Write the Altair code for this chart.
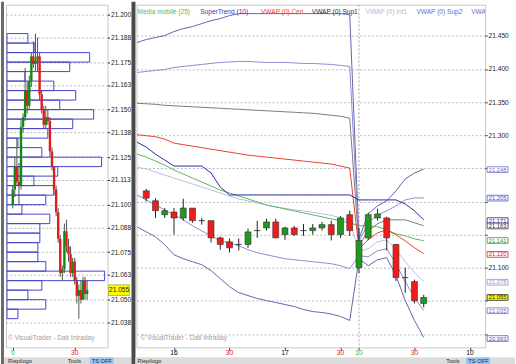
import altair as alt
import pandas as pd

FONT = "Liberation Sans"

# ---------------- right panel: 5-minute bars ----------------
BAR_INDEX = list(range(31))
BAR_OPEN = [21.216, 21.201, 21.180, 21.184, 21.175, 21.190, 21.171, 21.171, 21.145, 21.139,
            21.135, 21.135, 21.156, 21.160, 21.169, 21.150, 21.160, 21.156, 21.156, 21.160,
            21.165, 21.150, 21.180, 21.100, 21.145, 21.175, 21.175, 21.135, 21.085, 21.079, 21.046]
BAR_HIGH = [21.219, 21.205, 21.190, 21.190, 21.204, 21.190, 21.175, 21.171, 21.147, 21.144,
            21.144, 21.159, 21.171, 21.174, 21.174, 21.162, 21.163, 21.166, 21.166, 21.169,
            21.171, 21.178, 21.186, 21.160, 21.183, 21.189, 21.177, 21.136, 21.100, 21.082, 21.059]
BAR_LOW = [21.200, 21.175, 21.175, 21.150, 21.171, 21.168, 21.165, 21.138, 21.127, 21.123,
           21.126, 21.130, 21.145, 21.156, 21.145, 21.142, 21.148, 21.148, 21.150, 21.156,
           21.141, 21.145, 21.148, 21.092, 21.142, 21.171, 21.126, 21.080, 21.062, 21.046, 21.040]
BAR_CLOSE = [21.205, 21.186, 21.186, 21.175, 21.190, 21.171, 21.171, 21.145, 21.135, 21.130,
             21.135, 21.154, 21.156, 21.169, 21.145, 21.160, 21.150, 21.156, 21.160, 21.165,
             21.150, 21.175, 21.156, 21.141, 21.180, 21.181, 21.145, 21.085, 21.085, 21.050, 21.055]

# indicator lines, one value per bar from index -1 to 30
LINE_INDEX = list(range(-1, 31))
VWAP_SUP3 = [21.4399, 21.4444, 21.4474, 21.4504, 21.4564, 21.4609, 21.4639, 21.4684, 21.4729, 21.4760,
             21.4805, 21.4835, 21.4835, 21.4835, 21.4835, 21.4835, 21.4835, 21.4835, 21.4835, 21.4835,
             21.4835, 21.4835, 21.4835, 21.4820, 21.1436, 21.1812, 21.1932, 21.2008, 21.2158, 21.2338,
             21.2429, 21.2489]
VWAP_SUP2 = [21.3947, 21.3962, 21.3977, 21.3992, 21.4023, 21.4038, 21.4053, 21.4068, 21.4083, 21.4098,
             21.4105, 21.4113, 21.4113, 21.4105, 21.4098, 21.4098, 21.4098, 21.4090, 21.4083, 21.4083,
             21.4075, 21.4068, 21.4053, 21.4038, 21.1391, 21.1677, 21.1797, 21.1857, 21.1932, 21.2023,
             21.2053, 21.2053]
VWAP_SUP1 = [21.3481, 21.3474, 21.3466, 21.3451, 21.3444, 21.3436, 21.3429, 21.3421, 21.3414, 21.3406,
             21.3398, 21.3391, 21.3383, 21.3376, 21.3368, 21.3361, 21.3353, 21.3346, 21.3338, 21.3331,
             21.3316, 21.3301, 21.3286, 21.3256, 21.1331, 21.1556, 21.1662, 21.1722, 21.1722, 21.1722,
             21.1677, 21.1632]
VWAP_CEN = [21.3008, 21.2992, 21.2977, 21.2940, 21.2880, 21.2857, 21.2835, 21.2812, 21.2789, 21.2767,
            21.2744, 21.2722, 21.2699, 21.2684, 21.2669, 21.2654, 21.2639, 21.2624, 21.2609, 21.2594,
            21.2579, 21.2564, 21.2534, 21.2504, 21.1286, 21.1421, 21.1526, 21.1571, 21.1496, 21.1406,
            21.1301, 21.1211]
VWAP_INF1 = [21.2519, 21.2489, 21.2444, 21.2398, 21.2353, 21.2308, 21.2263, 21.2218, 21.2173, 21.2128,
             21.2083, 21.2038, 21.2008, 21.1977, 21.1947, 21.1917, 21.1895, 21.1872, 21.1857, 21.1835,
             21.1812, 21.1789, 21.1752, 21.1707, 21.1241, 21.1286, 21.1391, 21.1421, 21.1271, 21.1090,
             21.0925, 21.0789]
VWAP_INF2 = [21.2098, 21.2023, 21.1947, 21.1872, 21.1797, 21.1722, 21.1632, 21.1556, 21.1481, 21.1406,
             21.1376, 21.1331, 21.1271, 21.1226, 21.1195, 21.1165, 21.1135, 21.1120, 21.1105, 21.1090,
             21.1075, 21.1060, 21.1030, 21.0985, 21.1180, 21.1165, 21.1256, 21.1286, 21.1060, 21.0789,
             21.0549, 21.0353]
VWAP_INF3 = [21.1617, 21.1541, 21.1466, 21.1346, 21.1195, 21.1135, 21.1090, 21.1045, 21.0955, 21.0835,
             21.0714, 21.0624, 21.0579, 21.0534, 21.0504, 21.0474, 21.0444, 21.0414, 21.0368, 21.0338,
             21.0323, 21.0301, 21.0263, 21.0203, 21.1135, 21.1030, 21.1120, 21.1150, 21.0880, 21.0504,
             21.0203, 20.9947]
MEDIA_MOBILE = [21.2714, 21.2669, 21.2609, 21.2549, 21.2474, 21.2414, 21.2353, 21.2293, 21.2233, 21.2173,
                21.2128, 21.2083, 21.2038, 21.1992, 21.1947, 21.1917, 21.1887, 21.1857, 21.1827, 21.1797,
                21.1767, 21.1737, 21.1707, 21.1677, 21.1632, 21.1632, 21.1617, 21.1571, 21.1511, 21.1481,
                21.1436, 21.1406]
SUPERTREND = [21.2895, 21.2820, 21.2714, 21.2624, 21.2534, 21.2534, 21.2534, 21.2534, 21.2429, 21.2218,
              21.2098, 21.2098, 21.2098, 21.2098, 21.2098, 21.2098, 21.2098, 21.2098, 21.2098, 21.2098,
              21.2098, 21.2098, 21.2098, 21.2098, 21.2023, 21.2023, 21.2023, 21.2023, 21.2023, 21.1962,
              21.1857, 21.1722]

SERIES_NAMES = ["Sup3", "Inf3", "Sup2", "Inf2", "Inf1", "Sup1", "Media", "Cen", "SuperTrend"]
SERIES_VALUES = [VWAP_SUP3, VWAP_INF3, VWAP_SUP2, VWAP_INF2, VWAP_INF1, VWAP_SUP1,
                 MEDIA_MOBILE, VWAP_CEN, SUPERTREND]
SERIES_COLORS = ["#6464b0", "#6464b0", "#8c8cd4", "#8c8cd4", "#bcbce8", "#7c7c7c",
                 "#5cb85c", "#e8402a", "#2a2aa8"]
SERIES_WIDTHS = [1, 1, 1, 1, 1, 2, 1, 2, 2]

# axis value boxes (right panel)
BOX_PRICE = [21.248, 21.205, 21.171, 21.163, 21.141, 21.120, 21.078, 21.055, 21.035, 20.993]
BOX_TEXT = [f"{p:.3f}" for p in BOX_PRICE]
BOX_INK = ["#7070c0", "#5050c8", "#1c1ca0", "#303030", "#2a9a2a", "#e02020", "#9090d0",
           "#202020", "#6a6ad0", "#5a5ab0"]
BOX_FILL = ["#ffffff"] * 7 + ["#ffff00"] + ["#ffffff"] * 2

LEGEND_TEXT = ["Media mobile (25)", "SuperTrend (10)", "VWAP (0) Cen", "VWAP (0) Sup1",
               "VWAP (0) Inf1", "VWAP (0) Sup2", "VWAP (0) Inf2"]
LEGEND_COLOR = ["#5cb85c", "#3a3ab0", "#e84030", "#303030", "#b4b4e0", "#6a6ad0", "#6a6ad0"]
LEGEND_X = [1, 64, 125, 176, 230, 281, 336]

R_TICK_POS = [3, 9, 15, 21, 23, 29, 35]
R_TICK_TEXT = ["16", "30", "17", "30", "10", "30", "10"]
R_TICK_COLOR = ["#000000", "#e02020", "#000000", "#e02020", "#22bb22", "#e02020", "#000000"]
R_Y_TICKS = [21.0, 21.05, 21.1, 21.15, 21.2, 21.25, 21.3, 21.35, 21.4, 21.45]
R_Y_COVERED = [21.0, 21.05, 21.15, 21.2, 21.25]   # axis labels hidden behind the value boxes
DAY_START = [23]

# ---------------- left panel: 1-minute bars + volume profile ----------------
L_INDEX = list(range(37))
L_OPEN = [21.100, 21.108, 21.120, 21.112, 21.110, 21.141, 21.146, 21.160, 21.152, 21.165,
          21.178, 21.174, 21.176, 21.178, 21.158, 21.150, 21.142, 21.146, 21.144, 21.128,
          21.120, 21.108, 21.096, 21.082, 21.064, 21.066, 21.086, 21.078, 21.074, 21.064,
          21.070, 21.060, 21.052, 21.055, 21.050, 21.060, 21.053]
L_HIGH = [21.110, 21.125, 21.135, 21.122, 21.145, 21.148, 21.172, 21.165, 21.168, 21.180,
          21.186, 21.190, 21.188, 21.180, 21.160, 21.152, 21.152, 21.150, 21.146, 21.130,
          21.120, 21.110, 21.098, 21.084, 21.068, 21.090, 21.092, 21.082, 21.078, 21.072,
          21.072, 21.062, 21.058, 21.060, 21.062, 21.062, 21.060]
L_LOW = [21.098, 21.104, 21.110, 21.100, 21.108, 21.138, 21.144, 21.148, 21.150, 21.162,
         21.172, 21.170, 21.170, 21.155, 21.148, 21.140, 21.140, 21.142, 21.125, 21.118,
         21.105, 21.094, 21.080, 21.062, 21.060, 21.064, 21.075, 21.070, 21.062, 21.062,
         21.058, 21.048, 21.040, 21.048, 21.050, 21.050, 21.050]
L_CLOSE = [21.108, 21.120, 21.112, 21.110, 21.141, 21.146, 21.160, 21.152, 21.165, 21.178,
           21.174, 21.176, 21.178, 21.158, 21.150, 21.142, 21.146, 21.144, 21.128, 21.120,
           21.108, 21.096, 21.082, 21.064, 21.066, 21.086, 21.078, 21.074, 21.064, 21.070,
           21.060, 21.052, 21.055, 21.050, 21.060, 21.053, 21.055]

VP_LOW = [21.185, 21.180, 21.175, 21.170, 21.165, 21.160, 21.155, 21.150, 21.145, 21.140,
          21.135, 21.130, 21.125, 21.120, 21.115, 21.110, 21.105, 21.100, 21.095, 21.090,
          21.085, 21.080, 21.075, 21.070, 21.065, 21.060, 21.055, 21.050, 21.045, 21.040]
VP_VOL = [21, 28, 83, 63, 18, 47, 69, 53, 87, 66, 41, 11, 35, 95, 51, 27, 47, 39, 15, 43,
          33, 33, 31, 31, 39, 98, 35, 21, 39, 11]
VP_STEP = 0.005

L_Y_TICKS = [21.2, 21.188, 21.175, 21.163, 21.15, 21.138, 21.125, 21.113, 21.1, 21.088,
             21.075, 21.063, 21.05, 21.038]
L_TICK_POS = [0, 30]
L_TICK_TEXT = ["0", "30"]
L_TICK_COLOR = ["#22bb22", "#e02020"]
LAST_PRICE = [21.055]

WATERMARK = "© VisualTrader - Dati Intraday"

# window toolbar texts (bottom strip of each pane)
TB_LEFT_TEXT = ["Riepilogo", "Tools", "TS OFF"]
TB_LEFT_X = [2, 62, 86]
TB_RIGHT_TEXT = ["Riepilogo", "Tools", "TS OFF"]
TB_RIGHT_X = [1, 311, 333]

# ---------------- layout ----------------
W_L, W_R, H = 102, 350, 344
DIR_EXPR = "datum.c > datum.o ? 'up' : (datum.c < datum.o ? 'down' : 'flat')"
HIDE_EXPR = " || ".join(f"abs(datum.value - {v}) < 0.0001" for v in R_Y_COVERED)

# ======== right panel ========
bars = pd.DataFrame({"i": BAR_INDEX, "o": BAR_OPEN, "h": BAR_HIGH, "l": BAR_LOW, "c": BAR_CLOSE})
rows = []
for name, vals in zip(SERIES_NAMES, SERIES_VALUES):
    for i, v in zip(LINE_INDEX, vals):
        rows.append({"i": i, "v": v, "s": name})
lines = pd.DataFrame(rows)

xs_r = alt.Scale(domain=[-0.52, 36.1], nice=False, zero=False)
ys_r = alt.Scale(domain=[20.9797, 21.497], nice=False, zero=False)
ax_xr = alt.Axis(values=R_TICK_POS, labels=False, ticks=True, tickSize=3, tickColor="#444",
                 domain=False, grid=False, title=None)
ax_yr = alt.Axis(orient="right", values=R_Y_TICKS, title=None, tickSize=2,
                 labelExpr=f"({HIDE_EXPR}) ? '' : format(datum.value, '.3f')",
                 tickColor="#222", labelPadding=1, labelFont=FONT, labelFontSize=6.6,
                 labelColor="#222", domain=False, grid=True, gridDash=[2, 2],
                 gridColor="#b8b8b8")

def rx(field):
    return alt.X(f"{field}:Q", scale=xs_r, axis=ax_xr)

def ry(field):
    return alt.Y(f"{field}:Q", scale=ys_r, axis=ax_yr)

day_rule = alt.Chart(pd.DataFrame({"i": DAY_START})).mark_rule(
    color="#a8a8a8", strokeDash=[2, 2], strokeWidth=1
).encode(x=rx("i"))

line_layer = alt.Chart(lines).mark_line(clip=True).encode(
    x=rx("i"), y=ry("v"),
    color=alt.Color("s:N", scale=alt.Scale(domain=SERIES_NAMES, range=SERIES_COLORS), legend=None),
    strokeWidth=alt.StrokeWidth("s:N", scale=alt.Scale(domain=SERIES_NAMES, range=SERIES_WIDTHS), legend=None),
)

wick_r = alt.Chart(bars).mark_rule(color="#222222", strokeWidth=1).encode(
    x=rx("i"), y=ry("l"), y2="h:Q"
)
body_r = alt.Chart(bars).transform_calculate(d=DIR_EXPR).mark_bar(
    size=6, stroke="#333333", strokeWidth=0.6
).encode(
    x=rx("i"), y=ry("o"), y2="c:Q",
    color=alt.Color("d:N", scale=alt.Scale(domain=["up", "down", "flat"],
                                           range=["#1f9a1f", "#f01c1c", "#000000"]), legend=None),
)

legend_df = pd.DataFrame({"t": LEGEND_TEXT, "col": LEGEND_COLOR, "px": LEGEND_X})
legend_r = alt.Chart(legend_df).mark_text(
    align="left", baseline="middle", font=FONT, fontSize=6.6, clip=True
).encode(x=alt.X("px:Q", scale=None, axis=None), y=alt.value(7), text="t:N",
         color=alt.Color("col:N", scale=None))

box_df = pd.DataFrame({"p": BOX_PRICE, "t": BOX_TEXT, "ink": BOX_INK, "fill": BOX_FILL})
box_rect = alt.Chart(box_df).transform_calculate(
    top="datum.p + 0.0043", bot="datum.p - 0.0043"
).mark_rect(strokeWidth=0.8).encode(
    x=alt.value(W_R + 2), x2=alt.value(W_R + 23),
    y=ry("top"), y2="bot:Q",
    fill=alt.Color("fill:N", scale=None), stroke=alt.Color("ink:N", scale=None),
)
box_text = alt.Chart(box_df).mark_text(
    align="center", baseline="middle", font=FONT, fontSize=5.8
).encode(x=alt.value(W_R + 12.5), y=ry("p"), text="t:N", color=alt.Color("ink:N", scale=None))

xlab_df = pd.DataFrame({"i": R_TICK_POS, "t": R_TICK_TEXT, "col": R_TICK_COLOR})
xlab_r = alt.Chart(xlab_df).mark_text(baseline="middle", font=FONT, fontSize=6.8).encode(
    x=rx("i"), y=alt.value(H + 6), text="t:N", color=alt.Color("col:N", scale=None)
)
wm_r = alt.Chart(pd.DataFrame({"t": [WATERMARK]})).mark_text(
    align="left", baseline="middle", font=FONT, fontSize=6.6, color="#a0a0a0"
).encode(x=alt.value(4), y=alt.value(H - 9), text="t:N")

# window chrome: splitter between panes and toolbar strip
one = pd.DataFrame({"k": [0]})
split_r = alt.Chart(one).mark_rect(color="#4a4a4a").encode(
    x=alt.value(-5), x2=alt.value(-1), y=alt.value(-3), y2=alt.value(H + 17)
)
strip_r = alt.Chart(one).mark_rect(color="#dcdcdc").encode(
    x=alt.value(-1), x2=alt.value(W_R + 30), y=alt.value(H + 10), y2=alt.value(H + 17)
)
tsbg_r = alt.Chart(one).mark_rect(color="#9cc4f0").encode(
    x=alt.value(TB_RIGHT_X[2] - 2), x2=alt.value(TB_RIGHT_X[2] + 22),
    y=alt.value(H + 10), y2=alt.value(H + 17)
)
tb_r = alt.Chart(pd.DataFrame({"t": TB_RIGHT_TEXT, "px": TB_RIGHT_X})).mark_text(
    align="left", baseline="middle", font=FONT, fontSize=5.8, color="#303030"
).encode(x=alt.X("px:Q", scale=None, axis=None), y=alt.value(H + 13.3), text="t:N")

right = alt.layer(day_rule, line_layer, wick_r, body_r, legend_r, box_rect, box_text,
                  xlab_r, wm_r, split_r, strip_r, tsbg_r, tb_r).resolve_scale(
    color="independent", stroke="independent", fill="independent"
).properties(width=W_R, height=H)

# ======== left panel ========
lbars = pd.DataFrame({"i": L_INDEX, "o": L_OPEN, "h": L_HIGH, "l": L_LOW, "c": L_CLOSE})
vp = pd.DataFrame({"low": VP_LOW, "vol": VP_VOL})

xs_l = alt.Scale(domain=[-0.87, 43.5], nice=False, zero=False)
ys_l = alt.Scale(domain=[21.0249, 21.2052], nice=False, zero=False)
ax_xl = alt.Axis(values=L_TICK_POS, labels=False, ticks=True, tickSize=3, tickColor="#444",
                 domain=False, grid=False, title=None)
ax_yl = alt.Axis(orient="right", values=L_Y_TICKS, format=".3f", title=None, tickSize=2,
                 tickColor="#222", labelPadding=1, labelFont=FONT, labelFontSize=6.6,
                 labelColor="#222", domain=False, grid=True, gridDash=[2, 2],
                 gridColor="#b8b8b8")

def lx(field):
    return alt.X(f"{field}:Q", scale=xs_l, axis=ax_xl)

def ly(field):
    return alt.Y(f"{field}:Q", scale=ys_l, axis=ax_yl)

vp_layer = alt.Chart(vp).transform_calculate(
    high=f"datum.low + {VP_STEP}", base="0"
).mark_rect(
    fill="#ffffff", fillOpacity=0, stroke="#4646cc", strokeWidth=1
).encode(
    x=alt.X("base:Q", scale=alt.Scale(domain=[-1, 101], nice=False, zero=False), axis=None),
    x2="vol:Q",
    y=ly("low"), y2="high:Q",
)

wick_l = alt.Chart(lbars).mark_rule(color="#555555", strokeWidth=1).encode(
    x=lx("i"), y=ly("l"), y2="h:Q"
)
body_l = alt.Chart(lbars).transform_calculate(d=DIR_EXPR).mark_bar(size=2.4).encode(
    x=lx("i"), y=ly("o"), y2="c:Q",
    color=alt.Color("d:N", scale=alt.Scale(domain=["up", "down", "flat"],
                                           range=["#128a12", "#e01c1c", "#000000"]), legend=None),
)
lxlab_df = pd.DataFrame({"i": L_TICK_POS, "t": L_TICK_TEXT, "col": L_TICK_COLOR})
xlab_l = alt.Chart(lxlab_df).mark_text(baseline="middle", font=FONT, fontSize=6.8).encode(
    x=lx("i"), y=alt.value(H + 6), text="t:N", color=alt.Color("col:N", scale=None)
)
last_df = pd.DataFrame({"p": LAST_PRICE, "t": [f"{p:.3f}" for p in LAST_PRICE]})
last_rect = alt.Chart(last_df).transform_calculate(
    top="datum.p + 0.0028", bot="datum.p - 0.0028"
).mark_rect(fill="#ffff00", stroke="#909000", strokeWidth=0.6).encode(
    x=alt.value(W_L + 1), x2=alt.value(W_L + 22), y=ly("top"), y2="bot:Q"
)
last_text = alt.Chart(last_df).mark_text(
    align="center", baseline="middle", font=FONT, fontSize=6.6, color="#202020"
).encode(x=alt.value(W_L + 11.5), y=ly("p"), text="t:N")
wm_l = alt.Chart(pd.DataFrame({"t": [WATERMARK]})).mark_text(
    align="left", baseline="middle", font=FONT, fontSize=6.6, color="#a0a0a0"
).encode(x=alt.value(2), y=alt.value(H - 9), text="t:N")
border_l = alt.Chart(one).mark_rect(color="#6a6a6a").encode(
    x=alt.value(-5), x2=alt.value(-2), y=alt.value(-3), y2=alt.value(H + 17)
)
strip_l = alt.Chart(one).mark_rect(color="#dcdcdc").encode(
    x=alt.value(-2), x2=alt.value(W_L + 24), y=alt.value(H + 10), y2=alt.value(H + 17)
)
tsbg_l = alt.Chart(one).mark_rect(color="#9cc4f0").encode(
    x=alt.value(TB_LEFT_X[2] - 2), x2=alt.value(TB_LEFT_X[2] + 22),
    y=alt.value(H + 10), y2=alt.value(H + 17)
)
tb_l = alt.Chart(pd.DataFrame({"t": TB_LEFT_TEXT, "px": TB_LEFT_X})).mark_text(
    align="left", baseline="middle", font=FONT, fontSize=5.8, color="#303030"
).encode(x=alt.X("px:Q", scale=None, axis=None), y=alt.value(H + 13.3), text="t:N")

candles_l = alt.layer(wick_l, body_l, xlab_l, last_rect, last_text, wm_l, border_l,
                      strip_l, tsbg_l, tb_l).resolve_scale(color="independent")
left = alt.layer(vp_layer, candles_l).resolve_scale(x="independent").properties(width=W_L, height=H)

chart = alt.hconcat(left, right, spacing=29, bounds="flush").properties(
    padding={"left": 0, "top": 0, "right": 0, "bottom": 0},
    background="#ffffff",
).configure_view(stroke="#c8c8c8", strokeWidth=1)

chart.save("out.html", embed_options={"renderer": "svg", "actions": False})
